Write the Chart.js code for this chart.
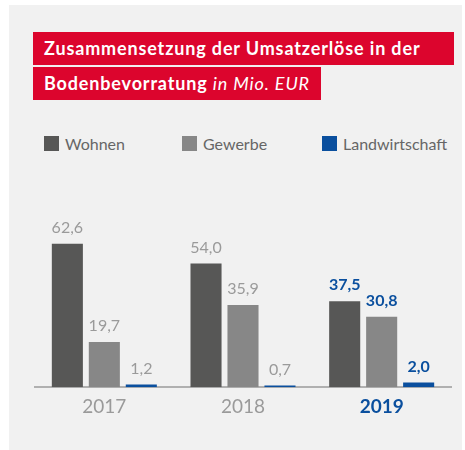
<!DOCTYPE html>
<html>
<head>
<meta charset="utf-8">
<script src="https://cdn.jsdelivr.net/npm/chart.js@4/dist/chart.umd.min.js"></script>
<style>
  html, body { margin: 0; padding: 0; background: #ffffff; }
  body { width: 465px; height: 450px; position: relative; overflow: hidden; font-family: Lato, "Open Sans", sans-serif; }
  #panel { position: absolute; left: 9px; top: 5px; width: 453px; height: 445px; background: #f1f1f1; }
  .head { position: absolute; left: 33px; height: 33px; background: #dc052d; color: #fff; font-weight: bold; font-size: 18px; letter-spacing: 0.85px; line-height: 33px; padding-left: 11px; box-sizing: border-box; white-space: nowrap; }
  .head i { font-weight: normal; }
  #h1 { top: 32px; width: 421px; }
  #h2 { top: 67px; width: 288px; }
  #legend { position: absolute; top: 136px; left: 0; width: 465px; height: 16px; }
  .lg { position: absolute; top: 0; height: 16px; font-size: 16px; line-height: 16px; color: #666; white-space: nowrap; }
  .lg span.sw { position: absolute; left: 0; top: 0; width: 15px; height: 15px; }
  .lg span.tx { position: absolute; left: 21px; top: 0; }
  #wrap { position: absolute; left: 0; top: 0; width: 465px; height: 450px; }
</style>
</head>
<body>
<div id="panel"></div>
<div class="head" id="h1">Zusammensetzung der Umsatzerlöse in der</div>
<div class="head" id="h2">Bodenbevorratung <i>in Mio. EUR</i></div>
<div id="legend"></div>
<div id="wrap"><canvas id="chart" width="465" height="450"></canvas></div>
<script>
const years = ['2017', '2018', '2019'];
const seriesNames = ['Wohnen', 'Gewerbe', 'Landwirtschaft'];
const wohnen = [62.6, 54.0, 37.5];
const gewerbe = [19.7, 35.9, 30.8];
const landwirtschaft = [1.2, 0.7, 2.0];

const colors = ['#575756', '#878787', '#0a4f9e'];
const highlightBlue = '#0a4f9e';
const labelGray = '#9a9a9a';
const FONT = 'Lato, "Open Sans", sans-serif';

// legend (fixed column positions)
const legendX = [44, 182, 322];
const legendEl = document.getElementById('legend');
seriesNames.forEach((name, i) => {
  const item = document.createElement('div');
  item.className = 'lg';
  item.style.left = legendX[i] + 'px';
  item.innerHTML = '<span class="sw" style="background:' + colors[i] + '"></span><span class="tx">' + name + '</span>';
  legendEl.appendChild(item);
});

const fmt = v => v.toFixed(1).replace('.', ',');
const lastIdx = years.length - 1;

// value labels above each bar
const valueLabels = {
  id: 'valueLabels',
  afterDatasetsDraw(chart) {
    const ctx = chart.ctx;
    ctx.save();
    ctx.textAlign = 'center';
    ctx.textBaseline = 'bottom';
    chart.data.datasets.forEach((ds, di) => {
      chart.getDatasetMeta(di).data.forEach((bar, i) => {
        const hi = i === lastIdx;
        ctx.font = (hi ? 'bold ' : '') + '16px ' + FONT;
        ctx.fillStyle = hi ? highlightBlue : labelGray;
        ctx.fillText(fmt(ds.data[i]), bar.x, bar.y - 8);
      });
    });
    ctx.restore();
  }
};

new Chart(document.getElementById('chart'), {
  type: 'bar',
  data: {
    labels: years,
    datasets: [
      { label: seriesNames[0], data: wohnen, backgroundColor: colors[0] },
      { label: seriesNames[1], data: gewerbe, backgroundColor: colors[1] },
      { label: seriesNames[2], data: landwirtschaft, backgroundColor: colors[2] }
    ]
  },
  options: {
    responsive: false,
    animation: false,
    events: [],
    layout: { padding: { top: 204, left: 35, right: 14, bottom: 24 } },
    datasets: { bar: { categoryPercentage: 0.8, barPercentage: 0.84 } },
    plugins: { legend: { display: false }, tooltip: { enabled: false } },
    scales: {
      x: {
        grid: { display: false, drawTicks: false },
        border: { display: true, color: '#b0b0b0', width: 2 },
        ticks: {
          padding: 8,
          color: c => c.index === lastIdx ? highlightBlue : labelGray,
          font: c => ({ family: FONT, size: 19, weight: c.index === lastIdx ? 'bold' : 'normal' })
        }
      },
      y: { display: false, min: 0, max: 80 }
    }
  },
  plugins: [valueLabels]
});
</script>
</body>
</html>
